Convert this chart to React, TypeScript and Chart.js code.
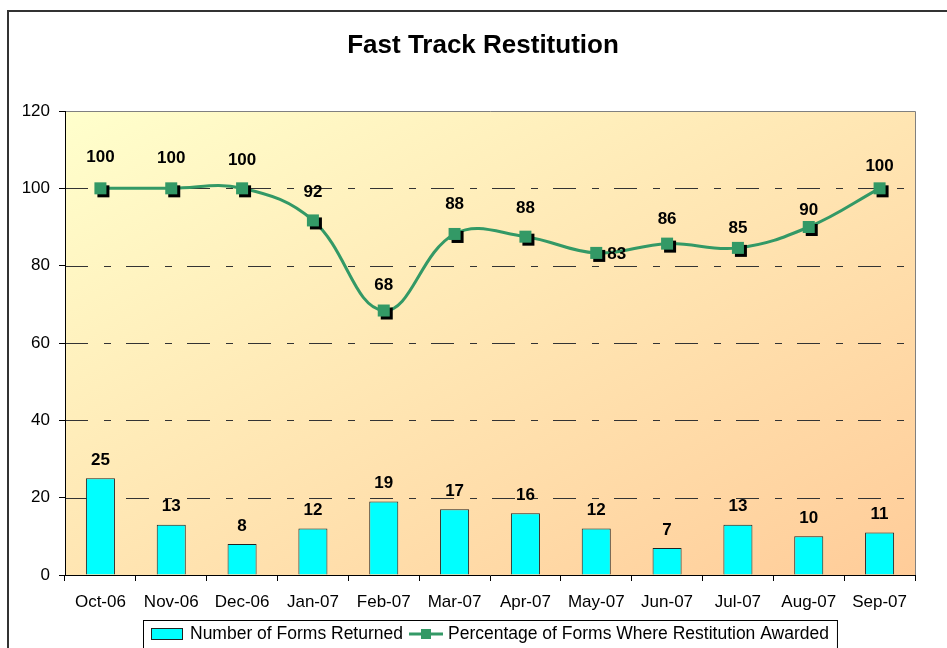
import React, { useEffect, useRef } from "react";
import { Chart, registerables } from "chart.js";

Chart.register(...registerables);

const TITLE = "Fast Track Restitution";
const MONTHS = ["Oct-06", "Nov-06", "Dec-06", "Jan-07", "Feb-07", "Mar-07", "Apr-07", "May-07", "Jun-07", "Jul-07", "Aug-07", "Sep-07"];
const FORMS_RETURNED = [25, 13, 8, 12, 19, 17, 16, 12, 7, 13, 10, 11];
const PCT_AWARDED = [100, 100, 100, 91.7, 68.4, 88.2, 87.5, 83.3, 85.7, 84.6, 90, 100];
const BAR_LABEL = "Number of Forms Returned";
const LINE_LABEL = "Percentage of Forms Where Restitution Awarded";
const Y_MIN = 0;
const Y_MAX = 120;
const Y_STEP = 20;

// label placement (style only): pixel distance above the point; 0 => to the right
const LINE_LABEL_OFFSETS = [31, 30, 28, 28, 25, 30, 28, 0, 24, 20, 17, 22];

const FONT = 'Arial, "Liberation Sans", sans-serif';
const GREEN = "#339966";
const CYAN = "#00FFFF";

export default function App() {
  const ref = useRef<HTMLCanvasElement | null>(null);

  useEffect(() => {
    const canvas = ref.current;
    if (!canvas) return;

    const bgPlugin = {
      id: "bgPlugin",
      beforeDraw(chart: any) {
        const { ctx, chartArea: a } = chart;
        ctx.save();
        ctx.fillStyle = "#ffffff";
        ctx.fillRect(0, 0, chart.width, chart.height);
        // diagonal gradient in normalized plot-area space
        ctx.save();
        ctx.translate(a.left, a.top);
        ctx.scale(a.right - a.left, a.bottom - a.top);
        const g = ctx.createLinearGradient(0, 0, 1, 1);
        g.addColorStop(0, "#FFFFCC");
        g.addColorStop(1, "#FFCC99");
        ctx.fillStyle = g;
        ctx.fillRect(0, 0, 1, 1);
        ctx.restore();
        const ys = chart.scales.y;
        ctx.strokeStyle = "#333333";
        ctx.lineWidth = 1;
        ctx.setLineDash([23, 16, 7, 15]);
        ys.ticks.forEach((t: any) => {
          if (t.value <= Y_MIN || t.value >= Y_MAX) return;
          const py = Math.round(ys.getPixelForValue(t.value)) + 0.5;
          ctx.beginPath();
          ctx.moveTo(a.left, py);
          ctx.lineTo(a.right, py);
          ctx.stroke();
        });
        ctx.setLineDash([]);
        ctx.strokeStyle = "#808080";
        ctx.beginPath();
        ctx.moveTo(a.left, Math.round(a.top) + 0.5);
        ctx.lineTo(Math.round(a.right) + 0.5, Math.round(a.top) + 0.5);
        ctx.lineTo(Math.round(a.right) + 0.5, a.bottom);
        ctx.stroke();
        ctx.restore();
      },
    };

    const labelPlugin = {
      id: "labelPlugin",
      afterDatasetsDraw(chart: any) {
        const { ctx } = chart;
        ctx.save();
        const lineMeta = chart.getDatasetMeta(0);
        lineMeta.data.forEach((p: any) => {
          ctx.fillStyle = "#000000";
          ctx.fillRect(p.x - 6 + 3, p.y - 6 + 3, 12, 12);
          ctx.fillStyle = GREEN;
          ctx.fillRect(p.x - 6, p.y - 6, 12, 12);
        });
        ctx.font = `bold 17px ${FONT}`;
        ctx.fillStyle = "#000000";
        ctx.textBaseline = "middle";
        lineMeta.data.forEach((p: any, i: number) => {
          const v = Math.round(PCT_AWARDED[i]).toString();
          const off = LINE_LABEL_OFFSETS[i];
          if (off === 0) {
            ctx.textAlign = "left";
            ctx.fillText(v, p.x + 11, p.y + 1);
          } else {
            ctx.textAlign = "center";
            ctx.fillText(v, p.x, p.y - off);
          }
        });
        const barMeta = chart.getDatasetMeta(1);
        ctx.textAlign = "center";
        barMeta.data.forEach((b: any, i: number) => {
          ctx.fillText(String(FORMS_RETURNED[i]), b.x, b.y - 18);
        });
        ctx.restore();
      },
      afterDraw(chart: any) {
        const { ctx } = chart;
        ctx.save();
        ctx.fillStyle = "#000000";
        ctx.font = `bold 26px ${FONT}`;
        ctx.textAlign = "center";
        ctx.textBaseline = "middle";
        ctx.fillText(TITLE, 483, 46);
        // legend
        ctx.font = `17.5px ${FONT}`;
        ctx.textAlign = "left";
        const w1 = ctx.measureText(BAR_LABEL).width;
        const w2 = ctx.measureText(LINE_LABEL).width;
        const boxLeft = 143;
        const cy = 634;
        let x = boxLeft + 8;
        ctx.fillStyle = CYAN;
        ctx.fillRect(x, cy - 6, 32, 12);
        ctx.strokeStyle = "#222222";
        ctx.lineWidth = 1;
        ctx.strokeRect(x + 0.5, cy - 6 + 0.5, 31, 11);
        x += 39;
        ctx.fillStyle = "#000000";
        ctx.fillText(BAR_LABEL, x, cy);
        x += w1 + 6;
        ctx.strokeStyle = GREEN;
        ctx.lineWidth = 3;
        ctx.beginPath();
        ctx.moveTo(x, cy);
        ctx.lineTo(x + 34, cy);
        ctx.stroke();
        ctx.fillStyle = GREEN;
        ctx.fillRect(x + 17 - 5, cy - 5, 10, 10);
        x += 39;
        ctx.fillStyle = "#000000";
        ctx.fillText(LINE_LABEL, x, cy);
        x += w2 + 8;
        ctx.strokeStyle = "#000000";
        ctx.lineWidth = 1;
        ctx.strokeRect(boxLeft + 0.5, 620.5, x - boxLeft, 40);
        ctx.strokeStyle = "#333333";
        ctx.lineWidth = 2;
        ctx.strokeRect(8, 11, 980, 700);
        ctx.restore();
      },
    };

    const chart = new Chart(canvas, {
      type: "bar",
      data: {
        labels: MONTHS,
        datasets: [
          {
            type: "line",
            label: LINE_LABEL,
            data: PCT_AWARDED,
            borderColor: GREEN,
            backgroundColor: GREEN,
            borderWidth: 3,
            tension: 0.4,
            pointRadius: 0,
            order: 0,
          } as any,
          {
            type: "bar",
            label: BAR_LABEL,
            data: FORMS_RETURNED,
            backgroundColor: CYAN,
            borderColor: "#222222",
            borderWidth: 1,
            barPercentage: 0.82,
            categoryPercentage: 0.5,
            order: 1,
          } as any,
        ],
      },
      options: {
        responsive: false,
        animation: false,
        devicePixelRatio: 1,
        layout: { padding: { top: 111, right: 32, bottom: 33, left: 0 } },
        plugins: {
          legend: { display: false },
          title: { display: false },
          tooltip: { enabled: false },
        },
        scales: {
          x: {
            grid: { display: true, drawOnChartArea: false, drawTicks: true, tickLength: 6, color: "#000000", offset: true },
            border: { display: true, color: "#000000", width: 1 },
            ticks: { font: { family: FONT, size: 17 }, color: "#000000", padding: 11, maxRotation: 0, autoSkip: false },
            afterFit: (s: any) => { s.height = 40; },
          },
          y: {
            min: Y_MIN,
            max: Y_MAX,
            ticks: { stepSize: Y_STEP, font: { family: FONT, size: 17 }, color: "#000000", padding: 9 },
            grid: { display: true, drawOnChartArea: false, drawTicks: true, tickLength: 6, color: "#000000" },
            border: { display: true, color: "#000000", width: 1 },
            afterFit: (s: any) => { s.width = 65; },
          },
        },
      } as any,
      plugins: [bgPlugin, labelPlugin],
    });

    return () => chart.destroy();
  }, []);

  return (
    <div style={{ position: "absolute", left: 0, top: 0, width: 947, height: 648, overflow: "hidden" }}>
      <canvas ref={ref} width={947} height={648} style={{ display: "block" }} />
    </div>
  );
}
